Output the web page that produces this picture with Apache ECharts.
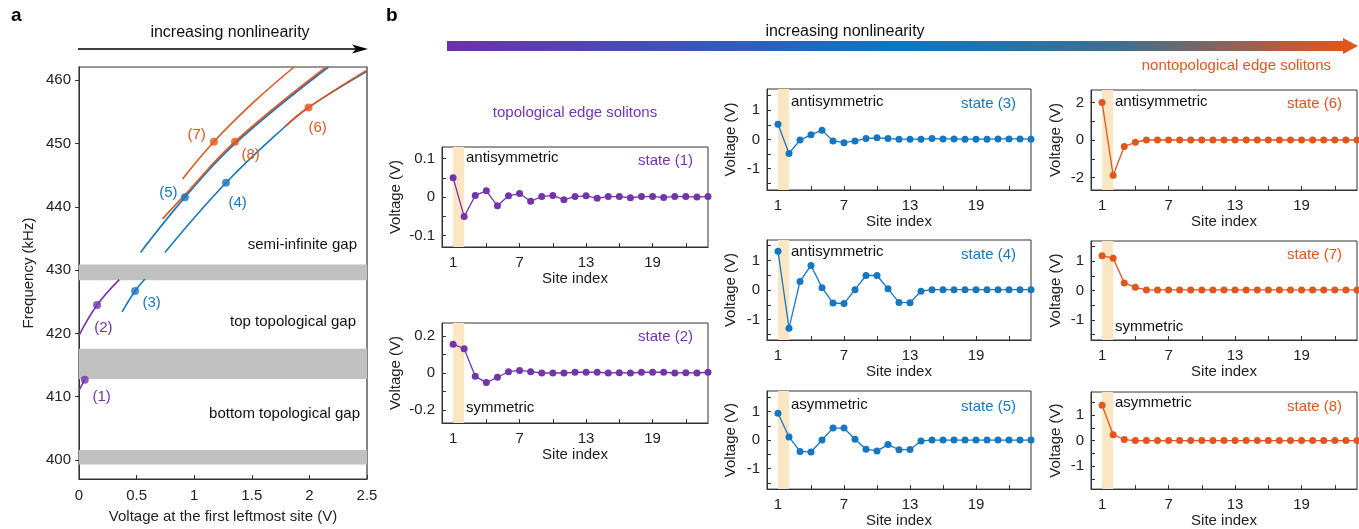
<!DOCTYPE html>
<html>
<head>
<meta charset="utf-8">
<script src="https://cdn.jsdelivr.net/npm/echarts@6/dist/echarts.min.js"></script>
<style>
  html, body { margin: 0; padding: 0; background: #fff; }
  #main { width: 1359px; height: 529px; }
</style>
</head>
<body>
<div id="main"></div>
<script>
// ---- panel a: frequency vs voltage ----
const freqTicks = [400, 410, 420, 430, 440, 450, 460];
const voltTicks = [0, 0.5, 1, 1.5, 2, 2.5];
const gapBands = [[399.3, 401.6], [412.8, 417.6], [428.4, 430.9]];
const gapNames = ["bottom topological gap", "top topological gap", "semi-infinite gap"];

const curve1 = [[0, 411.0], [0.05, 412.7]];
const curve2 = [[0, 419.7], [0.157, 424.5], [0.35, 428.5]];
const curve3 = [[0.374, 423.4], [0.487, 426.7], [0.572, 428.6]];
const curve4 = [[0.746, 432.8], [1.276, 443.8], [1.789, 452.7], [1.992, 455.7], [2.5, 461.4]];
const curve5 = [[0.534, 432.8], [0.919, 441.5], [1.354, 450.0], [2.166, 462.1]];
const curve6 = [[1.789, 452.7], [1.992, 455.7], [2.5, 461.6]];
const curve7 = [[0.899, 444.4], [1.171, 450.3], [1.514, 456.5], [1.867, 462.1]];
const curve8 = [[0.725, 438.1], [0.919, 441.9], [1.354, 450.3], [2.146, 462.1]];

const stateNames = ["(1)", "(2)", "(3)", "(4)", "(5)", "(6)", "(7)", "(8)"];
const stateDots = [
  [0.05, 412.7], [0.157, 424.5], [0.487, 426.7], [1.276, 443.8],
  [0.919, 441.5], [1.992, 455.7], [1.171, 450.3], [1.354, 450.3]
];

// ---- panel b: voltage profiles ----
const sites = [1, 2, 3, 4, 5, 6, 7, 8, 9, 10, 11, 12, 13, 14, 15, 16, 17, 18, 19, 20, 21, 22, 23, 24];
const siteLabels = [1, 7, 13, 19];
const siteTicks = [1, 4, 7, 10, 13, 16, 19, 22];

const state1 = [0.050, -0.051, 0.004, 0.016, -0.023, 0.003, 0.009, -0.011, 0.001, 0.004, -0.007, 0.001,
  0.003, -0.003, 0.001, 0.001, -0.002, 0.001, 0.001, -0.001, 0.001, 0.001, 0, 0.001];
const state2 = [0.157, 0.132, -0.018, -0.052, -0.023, 0.007, 0.014, 0.007, 0, 0, 0, 0.004,
  0.004, 0.004, 0, 0.002, 0, 0.004, 0.004, 0.004, 0, 0.002, 0, 0.004];
const state3 = [0.52, -0.48, -0.02, 0.16, 0.32, -0.05, -0.11, -0.05, 0.03, 0.06, 0.03, 0.01,
  0.01, 0.01, 0.03, 0.02, 0.02, 0.01, 0.01, 0.01, 0.02, 0.02, 0.02, 0.01];
const state4 = [1.31, -1.29, 0.29, 0.83, 0.08, -0.44, -0.46, 0.01, 0.49, 0.49, 0.04, -0.42,
  -0.43, -0.04, 0.01, 0.01, 0.01, 0.01, 0.01, 0.01, 0.01, 0.01, 0.01, 0.01];
const state5 = [0.94, 0.11, -0.40, -0.42, 0, 0.42, 0.42, 0.03, -0.32, -0.38, -0.16, -0.34,
  -0.33, -0.03, 0, 0, 0, 0, 0, 0, 0, 0, 0, 0];
const state6 = [2.0, -1.88, -0.35, -0.12, 0, 0, 0, 0, 0, 0, 0, 0,
  0, 0, 0, 0, 0, 0, 0, 0, 0, 0, 0, 0];
const state7 = [1.19, 1.10, 0.26, 0.11, 0.02, 0.02, 0.02, 0.02, 0.02, 0.02, 0.02, 0.02,
  0.02, 0.02, 0.02, 0.02, 0.02, 0.02, 0.02, 0.02, 0.02, 0.02, 0.02, 0.02];
const state8 = [1.38, 0.23, 0.04, 0, 0, 0, 0, 0, 0, 0, 0, 0,
  0, 0, 0, 0, 0, 0, 0, 0, 0, 0, 0, 0];

const yLabels1 = [-0.1, 0, 0.1];
const yTicks1 = [-0.1, -0.05, 0, 0.05, 0.1];
const yLabels2 = [-0.2, 0, 0.2];
const yTicks2 = [-0.2, -0.1, 0, 0.1, 0.2];
const yLabelsV = [-1, 0, 1];
const yTicksV = [-1.5, -1, -0.5, 0, 0.5, 1, 1.5];
const yLabels6 = [-2, 0, 2];
const yTicks6 = [-2, -1, 0, 1, 2];

const PURPLE = "#7434ab";
const BLUE = "#1577c0";
const ORANGE = "#e0561f";
const FONT = "'Liberation Sans', Arial, sans-serif";
const AXC = "#333";

const bPanels = [
  { vals: state1, color: PURPLE, left: 442, top: 147, width: 266, height: 100, ymax: 0.13, yl: yLabels1, yt: yTicks1, gap: 39,
    kind: "antisymmetric", kindY: 158, stateY: 161, name: "state (1)" },
  { vals: state2, color: PURPLE, left: 442, top: 323, width: 266, height: 100, ymax: 0.272, yl: yLabels2, yt: yTicks2, gap: 39,
    kind: "symmetric", kindY: 408, stateY: 337, name: "state (2)" },
  { vals: state3, color: BLUE, left: 767, top: 89, width: 264, height: 101, ymax: 1.73, yl: yLabelsV, yt: yTicksV, gap: 29,
    kind: "antisymmetric", kindY: 102, stateY: 104, name: "state (3)" },
  { vals: state4, color: BLUE, left: 767, top: 240, width: 264, height: 100, ymax: 1.69, yl: yLabelsV, yt: yTicksV, gap: 29,
    kind: "antisymmetric", kindY: 252, stateY: 255, name: "state (4)" },
  { vals: state5, color: BLUE, left: 767, top: 391, width: 264, height: 101, ymax: 1.72, yl: yLabelsV, yt: yTicksV, gap: 29,
    kind: "asymmetric", kindY: 405, stateY: 407, name: "state (5)" },
  { vals: state6, color: ORANGE, left: 1091, top: 90, width: 266, height: 100, ymax: 2.66, yl: yLabels6, yt: yTicks6, gap: 28,
    kind: "antisymmetric", kindY: 102, stateY: 104, name: "state (6)" },
  { vals: state7, color: ORANGE, left: 1091, top: 241, width: 266, height: 99, ymax: 1.69, yl: yLabelsV, yt: yTicksV, gap: 28,
    kind: "symmetric", kindY: 327, stateY: 255, name: "state (7)" },
  { vals: state8, color: ORANGE, left: 1091, top: 392, width: 266, height: 100, ymax: 1.9, yl: yLabelsV, yt: yTicksV, gap: 28,
    kind: "asymmetric", kindY: 403, stateY: 407, name: "state (8)" }
];

const chart = echarts.init(document.getElementById("main"), null, { renderer: "canvas" });

const grids = [{ left: 79, top: 67, width: 288, height: 415, show: true, borderColor: AXC, borderWidth: 1.2 }];
const xAxes = [{
  gridIndex: 0, type: "value", min: 0, max: 2.5, interval: 0.5,
  name: "Voltage at the first leftmost site (V)", nameLocation: "middle", nameGap: 30,
  nameTextStyle: { fontSize: 15, color: "#222", fontFamily: FONT },
  axisLine: { show: true, lineStyle: { color: AXC } },
  axisTick: { show: true, inside: true, length: 4, lineStyle: { color: AXC } },
  axisLabel: { fontSize: 15, color: "#222", fontFamily: FONT, margin: 9, customValues: voltTicks },
  splitLine: { show: false }
}];
const yAxes = [{
  gridIndex: 0, type: "value", min: 397, max: 462.1,
  name: "Frequency (kHz)", nameLocation: "middle", nameGap: 43,
  nameTextStyle: { fontSize: 15, color: "#222", fontFamily: FONT },
  axisLine: { show: true, lineStyle: { color: AXC } },
  axisTick: { show: true, inside: false, length: 4, lineStyle: { color: AXC }, customValues: freqTicks },
  axisLabel: { fontSize: 15, color: "#222", fontFamily: FONT, margin: 8, customValues: freqTicks },
  splitLine: { show: false }
}];

const series = [];
// gray gap bands
series.push({
  type: "line", xAxisIndex: 0, yAxisIndex: 0, data: [], silent: true, z: 1,
  markArea: {
    silent: true,
    itemStyle: { color: "#c0c0c0" },
    data: gapBands.map(b => [{ yAxis: b[0] }, { yAxis: b[1] }])
  }
});
const curves = [
  [curve1, PURPLE], [curve2, PURPLE], [curve3, BLUE], [curve4, BLUE],
  [curve5, BLUE], [curve8, ORANGE], [curve7, ORANGE], [curve6, ORANGE]
];
curves.forEach(([d, c]) => {
  series.push({
    type: "line", xAxisIndex: 0, yAxisIndex: 0, data: d, smooth: 0.4,
    showSymbol: false, symbol: "none", z: 3,
    lineStyle: { color: c, width: 1.6 }
  });
});
const dotColors = [PURPLE, PURPLE, BLUE, BLUE, BLUE, ORANGE, ORANGE, ORANGE];
series.push({
  type: "scatter", xAxisIndex: 0, yAxisIndex: 0, symbolSize: 8, z: 4,
  data: stateDots.map((p, i) => ({ value: p, itemStyle: { color: dotColors[i] } }))
});

bPanels.forEach((p, k) => {
  const gi = k + 1;
  grids.push({ left: p.left, top: p.top, width: p.width, height: p.height, show: true, borderColor: AXC, borderWidth: 1 });
  xAxes.push({
    gridIndex: gi, type: "value", min: 0, max: 24,
    name: "Site index", nameLocation: "middle", nameGap: 23,
    nameTextStyle: { fontSize: 15, color: "#222", fontFamily: FONT },
    axisLine: { show: true, onZero: false, lineStyle: { color: AXC } },
    axisTick: { show: true, inside: true, length: 4, lineStyle: { color: AXC }, customValues: siteTicks },
    axisLabel: { fontSize: 15, color: "#222", fontFamily: FONT, margin: 8, customValues: siteLabels },
    splitLine: { show: false }
  });
  yAxes.push({
    gridIndex: gi, type: "value", min: -p.ymax, max: p.ymax,
    name: "Voltage (V)", nameLocation: "middle", nameGap: p.gap,
    nameTextStyle: { fontSize: 15, color: "#222", fontFamily: FONT },
    axisLine: { show: true, onZero: false, lineStyle: { color: AXC } },
    axisTick: { show: true, inside: true, length: 4, lineStyle: { color: AXC }, customValues: p.yt },
    axisLabel: { fontSize: 15, color: "#222", fontFamily: FONT, margin: 7, customValues: p.yl },
    splitLine: { show: false }
  });
  series.push({
    type: "line", xAxisIndex: gi, yAxisIndex: gi,
    data: sites.map((s, i) => [s, p.vals[i]]),
    symbol: "circle", symbolSize: 7, showSymbol: true, z: 3,
    lineStyle: { color: p.color, width: 1.3 },
    itemStyle: { color: p.color },
    markArea: {
      silent: true,
      itemStyle: { color: "#fbe6c3" },
      data: [[{ xAxis: 1 }, { xAxis: 2 }]]
    }
  });
});

function txt(x, y, s, color, align, size, weight) {
  return {
    type: "text", x: x, y: y, z: 100,
    style: {
      text: s, fill: color, align: align || "left", verticalAlign: "middle",
      font: (weight || "normal") + " " + (size || 15) + "px " + FONT
    }
  };
}

const graphics = [
  txt(11, 16, "a", "#000", "left", 19, "bold"),
  txt(230, 33, "increasing nonlinearity", "#111", "center", 16),
  { type: "line", shape: { x1: 78, y1: 49, x2: 360, y2: 49 }, style: { stroke: "#000", lineWidth: 1.5 } },
  { type: "polygon", shape: { points: [[352, 44.5], [368, 49], [352, 53.5], [356, 49]] }, style: { fill: "#000" } },
  txt(386, 16, "b", "#000", "left", 19, "bold"),
  txt(845, 32, "increasing nonlinearity", "#111", "center", 16),
  {
    type: "rect", shape: { x: 447, y: 41, width: 898, height: 10 },
    style: {
      fill: new echarts.graphic.LinearGradient(0, 0, 1, 0, [
        { offset: 0, color: "#7030a8" },
        { offset: 0.5, color: "#0f76c0" },
        { offset: 0.75, color: "#3f6f8f" },
        { offset: 1, color: "#e0561f" }
      ])
    }
  },
  { type: "polygon", shape: { points: [[1343, 38], [1358, 46], [1343, 54]] }, style: { fill: "#e0561f" } },
  txt(1331, 66, "nontopological edge solitons", ORANGE, "right", 15),
  txt(575, 113, "topological edge solitons", PURPLE, "center", 15),
  txt(357, 245, gapNames[2], "#111", "right", 15),
  txt(356, 322, gapNames[1], "#111", "right", 15),
  txt(360, 414, gapNames[0], "#111", "right", 15)
];
const labelPos = [[101.7, 396.7], [103.3, 328.3], [151.7, 303.3], [237.7, 203.3],
  [168.3, 193.3], [317.7, 127.7], [196.7, 135], [250.7, 155]];
stateNames.forEach((n, i) => {
  graphics.push(txt(labelPos[i][0], labelPos[i][1], n, dotColors[i], "center", 15));
});
bPanels.forEach(p => {
  graphics.push(txt(p.left + 24, p.kindY, p.kind, "#111", "left", 15));
  graphics.push(txt(p.left + p.width - 15, p.stateY, p.name, p.color, "right", 15));
});

chart.setOption({
  animation: false,
  backgroundColor: "#fff",
  grid: grids,
  xAxis: xAxes,
  yAxis: yAxes,
  series: series,
  graphic: graphics
});
</script>
</body>
</html>
